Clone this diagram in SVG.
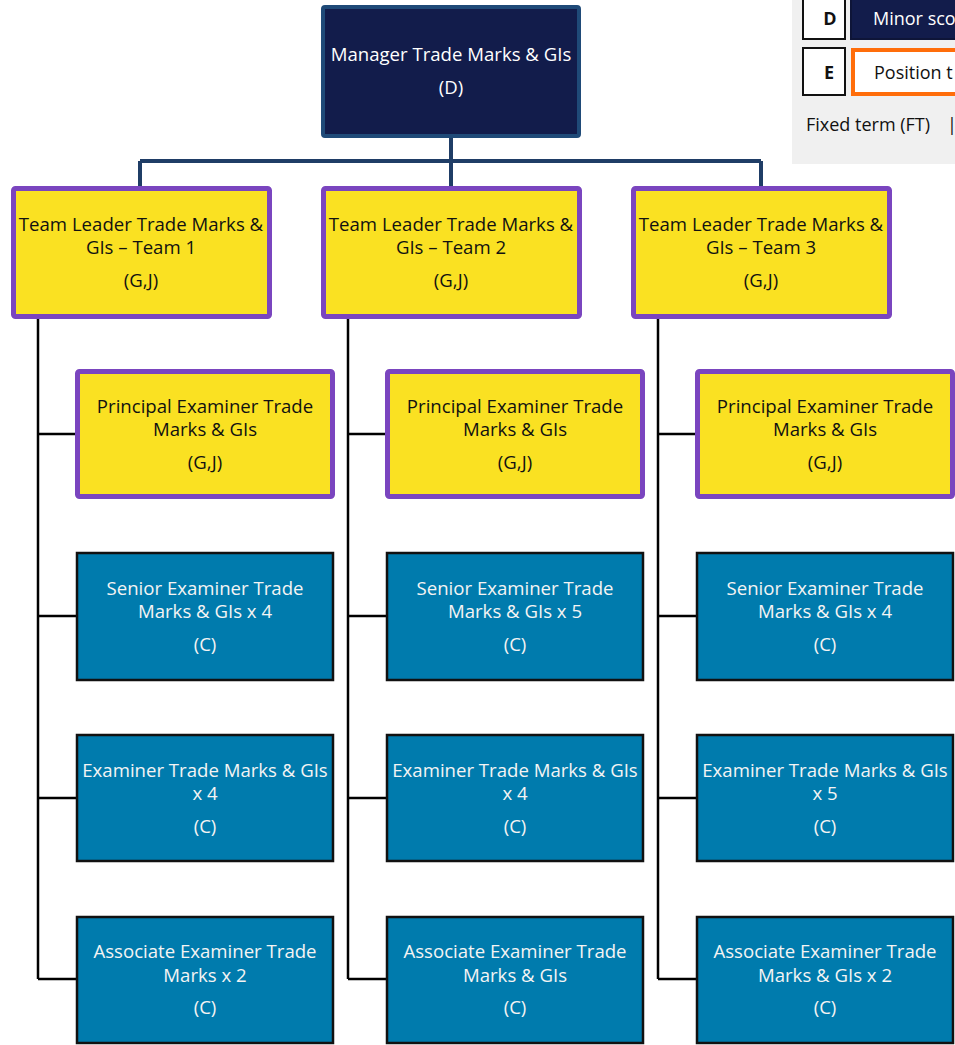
<svg xmlns="http://www.w3.org/2000/svg" width="955" height="1045" viewBox="0 0 955 1045">
  <style>
    text { font-family: "Open Sans", "Noto Sans", "Liberation Sans", sans-serif; font-size: 18.6px; text-anchor: middle; }
    .mgr rect { fill: #121c4b; stroke: #1f4a78; stroke-width: 4; }
    .mgr text { fill: #ffffff; }
    .lead rect { fill: #fae122; stroke: #7a45bf; stroke-width: 5; }
    .lead text { fill: #111111; }
    .exam rect { fill: #007bad; stroke: #111111; stroke-width: 2.5; }
    .exam text { fill: #f4f4f4; }
    .top-link { stroke: #1f3d66; stroke-width: 4; fill: none; }
    .team-link { stroke: #000000; stroke-width: 2.5; fill: none; }
    .key text { text-anchor: start; font-size: 18px; }
  </style>

  <!-- key panel -->
  <g id="legend" class="key">
    <rect x="792" y="0" width="163" height="164" fill="#f0f0f0"/>
    <rect x="803" y="-3" width="42" height="42" fill="#ffffff" stroke="#111111" stroke-width="2"/>
    <text x="830" y="25" style="font-weight:bold;text-anchor:middle" fill="#111111">D</text>
    <rect x="851" y="-3" width="110" height="42" fill="#121c4b" stroke="#0e1538" stroke-width="2"/>
    <text x="873" y="25" fill="#ffffff">Minor sco</text>
    <rect x="803" y="48" width="42" height="47" fill="#ffffff" stroke="#111111" stroke-width="2"/>
    <text x="829" y="79" style="font-weight:bold;text-anchor:middle" fill="#111111">E</text>
    <rect x="853" y="50" width="110" height="44" fill="#ffffff" stroke="#ff6d0a" stroke-width="4"/>
    <text x="874" y="79" fill="#111111">Position t</text>
    <text x="806" y="131" fill="#111111">Fixed term (FT)</text>
    <text x="947" y="131" fill="#111111">|</text>
  </g>

  <!-- reporting lines -->
  <g id="connectors">
    <path class="top-link" d="M451 137 V186 M140 161 H761 M140 161 V186 M761 161 V186"/>
    <path class="team-link" d="M38 318 V979 M38 434 H77 M38 616 H77 M38 798 H77 M38 979 H77"/>
    <path class="team-link" d="M348 318 V979 M348 434 H387 M348 616 H387 M348 798 H387 M348 979 H387"/>
    <path class="team-link" d="M658 318 V979 M658 434 H697 M658 616 H697 M658 798 H697 M658 979 H697"/>
  </g>

  <!-- manager -->
  <g id="manager" class="mgr">
    <rect x="323" y="7" width="256" height="129" rx="2"/>
    <text x="451" y="61">Manager Trade Marks &amp; GIs</text>
    <text x="451" y="94">(D)</text>
  </g>

  <!-- team leaders -->
  <g id="team-leader-1" class="lead">
    <rect x="13.5" y="188.5" width="256" height="128" rx="2"/>
    <text x="141" y="231">Team Leader Trade Marks &amp;</text>
    <text x="141" y="254">GIs – Team 1</text>
    <text x="141" y="287">(G,J)</text>
  </g>
  <g id="team-leader-2" class="lead">
    <rect x="323.5" y="188.5" width="256" height="128" rx="2"/>
    <text x="451" y="231">Team Leader Trade Marks &amp;</text>
    <text x="451" y="254">GIs – Team 2</text>
    <text x="451" y="287">(G,J)</text>
  </g>
  <g id="team-leader-3" class="lead">
    <rect x="633.5" y="188.5" width="256" height="128" rx="2"/>
    <text x="761" y="231">Team Leader Trade Marks &amp;</text>
    <text x="761" y="254">GIs – Team 3</text>
    <text x="761" y="287">(G,J)</text>
  </g>

  <!-- principal examiners -->
  <g id="principal-1" class="lead">
    <rect x="77.5" y="371.5" width="255" height="125" rx="2"/>
    <text x="205" y="413">Principal Examiner Trade</text>
    <text x="205" y="436">Marks &amp; GIs</text>
    <text x="205" y="469">(G,J)</text>
  </g>
  <g id="principal-2" class="lead">
    <rect x="387.5" y="371.5" width="255" height="125" rx="2"/>
    <text x="515" y="413">Principal Examiner Trade</text>
    <text x="515" y="436">Marks &amp; GIs</text>
    <text x="515" y="469">(G,J)</text>
  </g>
  <g id="principal-3" class="lead">
    <rect x="697.5" y="371.5" width="255" height="125" rx="2"/>
    <text x="825" y="413">Principal Examiner Trade</text>
    <text x="825" y="436">Marks &amp; GIs</text>
    <text x="825" y="469">(G,J)</text>
  </g>

  <!-- senior examiners -->
  <g id="senior-1" class="exam">
    <rect x="77" y="553" width="256" height="127"/>
    <text x="205" y="595">Senior Examiner Trade</text>
    <text x="205" y="618">Marks &amp; GIs x 4</text>
    <text x="205" y="651">(C)</text>
  </g>
  <g id="senior-2" class="exam">
    <rect x="387" y="553" width="256" height="127"/>
    <text x="515" y="595">Senior Examiner Trade</text>
    <text x="515" y="618">Marks &amp; GIs x 5</text>
    <text x="515" y="651">(C)</text>
  </g>
  <g id="senior-3" class="exam">
    <rect x="697" y="553" width="256" height="127"/>
    <text x="825" y="595">Senior Examiner Trade</text>
    <text x="825" y="618">Marks &amp; GIs x 4</text>
    <text x="825" y="651">(C)</text>
  </g>

  <!-- examiners -->
  <g id="examiner-1" class="exam">
    <rect x="77" y="735" width="256" height="126"/>
    <text x="205" y="777">Examiner Trade Marks &amp; GIs</text>
    <text x="205" y="800">x 4</text>
    <text x="205" y="833">(C)</text>
  </g>
  <g id="examiner-2" class="exam">
    <rect x="387" y="735" width="256" height="126"/>
    <text x="515" y="777">Examiner Trade Marks &amp; GIs</text>
    <text x="515" y="800">x 4</text>
    <text x="515" y="833">(C)</text>
  </g>
  <g id="examiner-3" class="exam">
    <rect x="697" y="735" width="256" height="126"/>
    <text x="825" y="777">Examiner Trade Marks &amp; GIs</text>
    <text x="825" y="800">x 5</text>
    <text x="825" y="833">(C)</text>
  </g>

  <!-- associate examiners -->
  <g id="associate-1" class="exam">
    <rect x="77" y="917" width="256" height="126"/>
    <text x="205" y="958">Associate Examiner Trade</text>
    <text x="205" y="982">Marks x 2</text>
    <text x="205" y="1014">(C)</text>
  </g>
  <g id="associate-2" class="exam">
    <rect x="387" y="917" width="256" height="126"/>
    <text x="515" y="958">Associate Examiner Trade</text>
    <text x="515" y="982">Marks &amp; GIs</text>
    <text x="515" y="1014">(C)</text>
  </g>
  <g id="associate-3" class="exam">
    <rect x="697" y="917" width="256" height="126"/>
    <text x="825" y="958">Associate Examiner Trade</text>
    <text x="825" y="982">Marks &amp; GIs x 2</text>
    <text x="825" y="1014">(C)</text>
  </g>
</svg>
